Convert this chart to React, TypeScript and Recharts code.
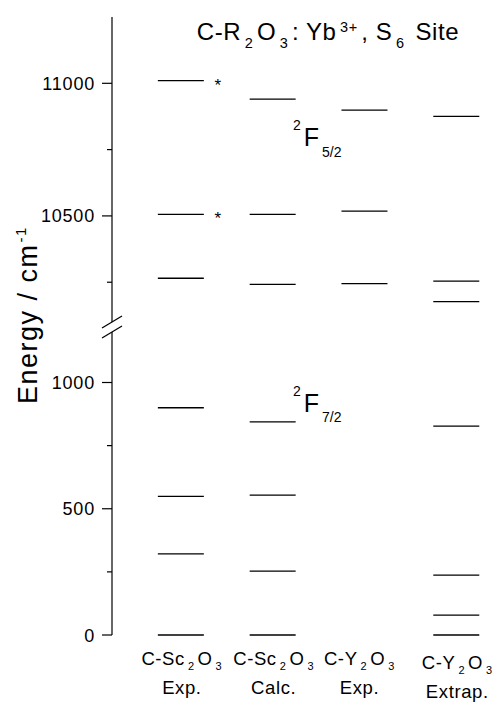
import React from 'react';
import { ComposedChart, Scatter, XAxis, YAxis } from 'recharts';

// energy levels (cm-1), one array per column
const scExp = [0, 321, 549, 900, 10265, 10506, 11010];
const scCalc = [0, 253, 554, 844, 10242, 10506, 10940];
const yExp = [10245, 10518, 10899];
const yExtrap = [0, 79, 237, 827, 10177, 10254, 10875];
const starredScExp = [10506, 11010];

const columnLevels = [scExp, scCalc, yExp, yExtrap];
const columnIds = [0, 1, 2, 3];

const upperTicks = [10250, 10500, 10750, 11000];
const lowerTicks = [0, 250, 500, 750, 1000];

type Part = [string, 'n' | 'sub' | 'sup'];
const columnLabels: Part[][] = [
  [['C-Sc', 'n'], ['2', 'sub'], ['O', 'n'], ['3', 'sub']],
  [['C-Sc', 'n'], ['2', 'sub'], ['O', 'n'], ['3', 'sub']],
  [['C-Y', 'n'], ['2', 'sub'], ['O', 'n'], ['3', 'sub']],
  [['C-Y', 'n'], ['2', 'sub'], ['O', 'n'], ['3', 'sub']],
];
const columnNotes = ['Exp.', 'Calc.', 'Exp.', 'Extrap.'];

const titleParts: Part[] = [
  ['C-R', 'n'], ['2', 'sub'], ['O', 'n'], ['3', 'sub'], [': Yb', 'n'], ['3+', 'sup'],
  [', S', 'n'], ['6', 'sub'], [' Site', 'n'],
];

const FONT = '"Liberation Sans", Arial, Helvetica, sans-serif';
const X_DOMAIN: [number, number] = [-0.75, 3.4];

const upperData = columnLevels.flatMap((lv, i) => lv.filter(v => v > 5000).map(v => ({ x: i, y: v })));
const lowerData = columnLevels.flatMap((lv, i) => lv.filter(v => v < 5000).map(v => ({ x: i, y: v })));
const starData = starredScExp.map(v => ({ x: 0, y: v }));

// text with Origin-like sub/superscripts
const Rich = ({ parts, size, small, subShift, supShift, gap = 2, ...rest }: any) => {
  let shift = 0;
  return (
    <text fontSize={size} fontFamily={FONT} fill="#000" {...rest}>
      {parts.map(([t, k]: Part, i: number) => {
        const target = k === 'sub' ? subShift : k === 'sup' ? -supShift : 0;
        const dy = target - shift;
        shift = target;
        const prevSmall = i > 0 && parts[i - 1][1] !== 'n';
        const dx = k !== 'n' ? gap : prevSmall ? gap : 0;
        return (
          <tspan key={i} dx={dx} dy={dy} fontSize={k === 'n' ? size : small}>{t}</tspan>
        );
      })}
    </text>
  );
};

const Level = (props: any) => {
  const { cx, cy } = props;
  return <line x1={cx - 23} x2={cx + 23} y1={cy} y2={cy} stroke="#000" strokeWidth={1.3} />;
};

const Star = (props: any) => {
  const { cx, cy } = props;
  return (
    <text x={cx + 37} y={cy + 10} textAnchor="middle" fontSize={17} fontFamily={FONT}>*</text>
  );
};

const YTick = (props: any) => {
  const { x, y, payload } = props;
  const major = payload.value % 500 === 0;
  return (
    <g>
      <line x1={x - (major ? 10 : 5)} x2={x} y1={y} y2={y} stroke="#000" strokeWidth={1.2} />
      {major && (
        <text x={x - 17} y={y + 6.5} textAnchor="end" fontSize={18} letterSpacing={0.8}
          fontFamily={FONT} fill="#000">
          {payload.value}
        </text>
      )}
    </g>
  );
};

const XTick = (props: any) => {
  const { x, y, payload } = props;
  const i = payload.value;
  const off = i === 3 ? 4 : 0;
  const shiftX = i === 2 ? -5 : 1;
  return (
    <g>
      <Rich parts={columnLabels[i]} size={18.5} small={11} subShift={5} supShift={6} gap={3}
        x={x + shiftX} y={y + 30 + off} textAnchor="middle" letterSpacing={0.6} />
      <text x={x + shiftX} y={y + 59 + off} textAnchor="middle" fontSize={18.5} letterSpacing={0.6}
        fontFamily={FONT} fill="#000">
        {columnNotes[i]}
      </text>
    </g>
  );
};

export default function App() {
  return (
    <div style={{ position: 'absolute', left: 0, top: 0, width: 496, height: 703, background: '#fff' }}>
      <div style={{ position: 'absolute', left: 0, top: 0 }}>
        <ComposedChart width={496} height={330} margin={{ top: 17, right: 3, left: 0, bottom: 8 }}>
          <XAxis type="number" dataKey="x" domain={X_DOMAIN} hide />
          <YAxis type="number" dataKey="y" domain={[10100, 11250]} ticks={upperTicks} width={112}
            tickSize={0} tickMargin={0} tickLine={false} axisLine={{ stroke: '#000', strokeWidth: 1.2 }}
            tick={<YTick />} interval={0} />
          <Scatter data={upperData} shape={<Level />} isAnimationActive={false} />
          <Scatter data={starData} shape={<Star />} isAnimationActive={false} />
        </ComposedChart>
      </div>
      <div style={{ position: 'absolute', left: 0, top: 322 }}>
        <ComposedChart width={496} height={381} margin={{ top: 10, right: 3, left: 0, bottom: 0 }}>
          <XAxis type="number" dataKey="x" domain={X_DOMAIN} ticks={columnIds} interval={0}
            height={68} tickSize={0} tickMargin={0} axisLine={false} tickLine={false}
            tick={<XTick />} />
          <YAxis type="number" dataKey="y" domain={[0, 1200]} ticks={lowerTicks} width={112}
            tickSize={0} tickMargin={0} tickLine={false} axisLine={{ stroke: '#000', strokeWidth: 1.2 }}
            tick={<YTick />} interval={0} />
          <Scatter data={lowerData} shape={<Level />} isAnimationActive={false} />
        </ComposedChart>
      </div>
      <svg width={496} height={703} style={{ position: 'absolute', left: 0, top: 0, pointerEvents: 'none' }}>
        {/* axis break */}
        <line x1={102} y1={328} x2={122} y2={316} stroke="#000" strokeWidth={1.2} />
        <line x1={102} y1={338} x2={122} y2={326} stroke="#000" strokeWidth={1.2} />
        <Rich parts={titleParts} size={24} small={14.5} subShift={8} supShift={8} gap={3.5}
          x={328} y={40} textAnchor="middle" letterSpacing={0.6} />
        <Rich parts={[['Energy / cm', 'n'], ['-1', 'sup']]} size={27} small={15} subShift={0} supShift={11}
          gap={1} x={37} y={315} textAnchor="middle" transform="rotate(-90 37 315)" letterSpacing={1.5} />
        <Rich parts={[['2', 'sup'], ['F', 'n'], ['5/2', 'sub']]} size={25} small={14} subShift={11} supShift={16}
          gap={3} x={290} y={146} />
        <Rich parts={[['2', 'sup'], ['F', 'n'], ['7/2', 'sub']]} size={25} small={14} subShift={10} supShift={16}
          gap={3} x={290} y={412} />
      </svg>
    </div>
  );
}
